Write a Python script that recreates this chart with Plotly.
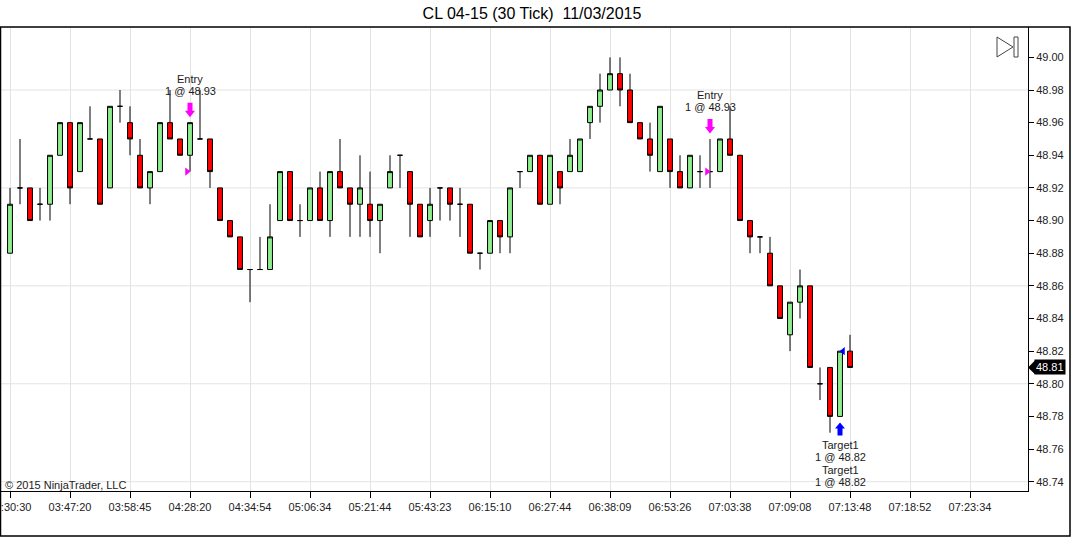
import plotly.graph_objects as go

# === DATA ===
title_text = "CL 04-15 (30 Tick) \u00a011/03/2015"

opens = [48.88, 48.92, 48.92, 48.91, 48.91, 48.94, 48.96, 48.93, 48.95, 48.95,
         48.92, 48.97, 48.96, 48.94, 48.92, 48.93, 48.96, 48.95, 48.94, 48.95,
         48.95, 48.92, 48.90, 48.89, 48.87, 48.87, 48.87, 48.90, 48.93, 48.90,
         48.90, 48.92, 48.90, 48.93, 48.92, 48.91, 48.91, 48.90, 48.92, 48.94,
         48.93, 48.91, 48.90, 48.92, 48.92, 48.91, 48.91, 48.88, 48.88, 48.90,
         48.89, 48.93, 48.93, 48.94, 48.91, 48.93, 48.93, 48.93, 48.96, 48.97,
         48.98, 48.99, 48.98, 48.96, 48.95, 48.93, 48.95, 48.93, 48.92, 48.93,
         48.93, 48.93, 48.95, 48.94, 48.90, 48.89, 48.88, 48.86, 48.83, 48.85,
         48.86, 48.80, 48.81, 48.78, 48.82]
highs = [48.92, 48.95, 48.92, 48.92, 48.94, 48.96, 48.96, 48.96, 48.97, 48.95,
         48.97, 48.98, 48.97, 48.95, 48.93, 48.96, 48.98, 48.95, 48.96, 48.98,
         48.95, 48.92, 48.90, 48.89, 48.87, 48.89, 48.91, 48.93, 48.93, 48.91,
         48.92, 48.93, 48.93, 48.95, 48.92, 48.94, 48.93, 48.91, 48.94, 48.94,
         48.93, 48.91, 48.92, 48.92, 48.92, 48.92, 48.91, 48.88, 48.90, 48.90,
         48.92, 48.93, 48.94, 48.94, 48.94, 48.93, 48.95, 48.95, 48.97, 48.99,
         49.00, 49.00, 48.99, 48.96, 48.96, 48.97, 48.95, 48.94, 48.94, 48.94,
         48.95, 48.95, 48.97, 48.94, 48.90, 48.89, 48.89, 48.86, 48.85, 48.87,
         48.86, 48.81, 48.81, 48.82, 48.83]
lows = [48.88, 48.91, 48.90, 48.90, 48.90, 48.94, 48.91, 48.93, 48.95, 48.91,
        48.92, 48.96, 48.94, 48.92, 48.91, 48.93, 48.95, 48.94, 48.93, 48.95,
        48.92, 48.90, 48.89, 48.87, 48.85, 48.87, 48.87, 48.90, 48.90, 48.89,
        48.90, 48.90, 48.89, 48.92, 48.89, 48.89, 48.89, 48.88, 48.92, 48.92,
        48.89, 48.89, 48.89, 48.90, 48.90, 48.89, 48.88, 48.87, 48.88, 48.88,
        48.88, 48.92, 48.93, 48.91, 48.91, 48.91, 48.93, 48.93, 48.95, 48.96,
        48.98, 48.97, 48.96, 48.95, 48.93, 48.93, 48.92, 48.92, 48.92, 48.92,
        48.92, 48.93, 48.94, 48.90, 48.88, 48.88, 48.86, 48.84, 48.82, 48.84,
        48.81, 48.79, 48.77, 48.78, 48.81]
closes = [48.91, 48.92, 48.90, 48.91, 48.94, 48.96, 48.92, 48.96, 48.95, 48.91,
          48.97, 48.97, 48.95, 48.92, 48.93, 48.96, 48.95, 48.94, 48.96, 48.95,
          48.93, 48.90, 48.89, 48.87, 48.87, 48.87, 48.89, 48.93, 48.90, 48.90,
          48.92, 48.90, 48.93, 48.92, 48.91, 48.92, 48.90, 48.91, 48.93, 48.94,
          48.91, 48.89, 48.91, 48.92, 48.91, 48.91, 48.88, 48.88, 48.90, 48.89,
          48.92, 48.93, 48.94, 48.91, 48.94, 48.92, 48.94, 48.95, 48.97, 48.98,
          48.99, 48.98, 48.96, 48.95, 48.94, 48.97, 48.93, 48.92, 48.94, 48.93,
          48.93, 48.95, 48.94, 48.90, 48.89, 48.89, 48.86, 48.84, 48.85, 48.86,
          48.81, 48.80, 48.78, 48.82, 48.81]
bars = list(range(len(closes)))

# x axis labels, one every 6 bars
time_labels = ["03:30:30", "03:47:20", "03:58:45", "04:28:20", "04:34:54",
               "05:06:34", "05:21:44", "05:43:23", "06:15:10", "06:27:44",
               "06:38:09", "06:53:26", "07:03:38", "07:09:08", "07:13:48",
               "07:18:52", "07:23:34"]
tick_bars = [6 * k for k in range(len(time_labels))]

price_ticks = [48.74 + 0.02 * k for k in range(14)]
grid_prices = [48.74, 48.80, 48.86, 48.92, 48.98]

# executions
entry_bars = [18, 70]
entry_prices = [48.93, 48.93]
target_bars = [83]
target_prices = [48.82]

# === LAYOUT HELPERS (pixel -> paper) ===
W, H = 1074, 537
PL, PR, PT, PB = 1, 1028, 27, 491


def px(x):
    return (x - PL) / (PR - PL)


def py(y):
    return (PB - y) / (PB - PT)


FONT = "Liberation Sans, Arial, sans-serif"
MAGENTA = "#FF00FF"
BLUE = "#0000FF"

# block arrow, tip at 0, pointing down (pixel units, y up)
ARROW_DOWN = "M -2.5,20 L 2.5,20 L 2.5,12 L 5,12 L 0,5.5 L -5,12 L -2.5,12 Z"
ARROW_UP = "M -2.5,-19 L 2.5,-19 L 2.5,-12 L 5,-12 L 0,-6 L -5,-12 L -2.5,-12 Z"

fig = go.Figure()

fig.add_trace(go.Candlestick(
    x=bars, open=opens, high=highs, low=lows, close=closes,
    increasing=dict(fillcolor="#90EE90", line=dict(color="black", width=1)),
    decreasing=dict(fillcolor="#FF0000", line=dict(color="black", width=1)),
    whiskerwidth=0, hoverinfo="skip", showlegend=False,
))

# execution markers
fig.add_trace(go.Scatter(
    x=[b - 0.3 for b in entry_bars], y=entry_prices, mode="markers",
    marker=dict(symbol="triangle-right", size=7, color=MAGENTA),
    hoverinfo="skip", showlegend=False, cliponaxis=False,
))
fig.add_trace(go.Scatter(
    x=[b + 0.3 for b in target_bars], y=target_prices, mode="markers",
    marker=dict(symbol="triangle-left", size=7, color=BLUE),
    hoverinfo="skip", showlegend=False, cliponaxis=False,
))

annotations = []
shapes = []
txt_font = dict(family=FONT, size=11, color="#1a1a1a")
for b, p in zip(entry_bars, entry_prices):
    shapes.append(dict(type="path", xref="x", yref="y", xsizemode="pixel",
                       ysizemode="pixel", xanchor=b, yanchor=highs[b], path=ARROW_DOWN,
                       fillcolor=MAGENTA, line=dict(width=0)))
    for k, line in enumerate(["1 @ %.2f" % p, "Entry"]):
        annotations.append(dict(x=b, y=highs[b], text=line, showarrow=False,
                                yanchor="middle", yshift=31.5 + 12 * k, font=txt_font))
for b, p in zip(target_bars, target_prices):
    shapes.append(dict(type="path", xref="x", yref="y", xsizemode="pixel",
                       ysizemode="pixel", xanchor=b, yanchor=lows[b], path=ARROW_UP,
                       fillcolor=BLUE, line=dict(width=0)))
    for k, line in enumerate(["Target1", "1 @ %.2f" % p, "Target1", "1 @ %.2f" % p]):
        annotations.append(dict(x=b, y=lows[b], text=line, showarrow=False,
                                yanchor="middle", yshift=-(28.5 + 12.4 * k), font=txt_font))

# last price tag
last = closes[-1]
annotations.append(dict(xref="paper", x=px(1034), y=last, text="%.2f" % last,
                        xanchor="left", yanchor="middle", showarrow=False,
                        bgcolor="black", borderpad=1,
                        font=dict(family=FONT, size=11, color="white")))

annotations.append(dict(xref="paper", yref="paper", x=px(3), y=py(485),
                        text="\u00a9 2015 NinjaTrader, LLC", xanchor="left",
                        yanchor="middle", showarrow=False,
                        font=dict(family=FONT, size=11, color="#222")))

for g in grid_prices:
    shapes.append(dict(type="line", xref="paper", x0=0, x1=1, y0=g, y1=g,
                       line=dict(color="#E3E3E3", width=1), layer="below"))
# outer frame
shapes.append(dict(type="rect", xref="paper", yref="paper",
                   x0=px(0.5), x1=px(1070), y0=py(536), y1=py(27),
                   line=dict(color="black", width=1.5)))
# price tag pointer
dy = 0.0042
shapes.append(dict(type="path", xref="paper", yref="y",
                   path="M %f,%f L %f,%f L %f,%f Z" % (px(1028), last, px(1035), last + dy,
                                                       px(1035), last - dy),
                   fillcolor="black", line=dict(color="black", width=0)))
# "scroll to end" icon
shapes.append(dict(type="path", xref="paper", yref="paper",
                   path="M %f,%f L %f,%f L %f,%f Z" % (px(997), py(37), px(997), py(57),
                                                       px(1013), py(47)),
                   line=dict(color="#444", width=1)))
shapes.append(dict(type="rect", xref="paper", yref="paper",
                   x0=px(1014), x1=px(1018), y0=py(57), y1=py(37),
                   line=dict(color="#444", width=1)))

fig.update_layout(
    width=W, height=H,
    margin=dict(l=PL, r=W - PR, t=PT, b=H - PB, pad=0, autoexpand=False),
    paper_bgcolor="white", plot_bgcolor="white",
    font=dict(family=FONT, size=11, color="black"),
    title=dict(text=title_text, x=532 / W, y=(H - 13) / H, xanchor="center",
               yanchor="middle", font=dict(family=FONT, size=16, color="black")),
    boxgap=0.3,
    showlegend=False,
    annotations=annotations,
    shapes=shapes,
    xaxis=dict(
        range=[-0.9, 101.8], rangeslider=dict(visible=False),
        tickmode="array", tickvals=tick_bars, ticktext=time_labels,
        ticklabeloverflow="allow", automargin=False,
        showgrid=True, gridcolor="#E3E3E3", gridwidth=1, zeroline=False,
        showline=True, linecolor="black", linewidth=1,
        ticks="outside", ticklen=6, tickcolor="black",
        tickfont=dict(family=FONT, size=11, color="#222"),
    ),
    yaxis=dict(
        side="right", range=[48.7343, 49.0186], automargin=False,
        tickmode="array", tickvals=price_ticks,
        ticktext=["%.2f" % v for v in price_ticks],
        showgrid=False, zeroline=False,
        showline=True, linecolor="black", linewidth=1,
        ticks="outside", ticklen=5, tickcolor="black",
        tickfont=dict(family=FONT, size=11, color="#222"),
    ),
)

fig.write_html("out.html", config={"displayModeBar": False},
               post_script="document.body.style.margin='0px';")
